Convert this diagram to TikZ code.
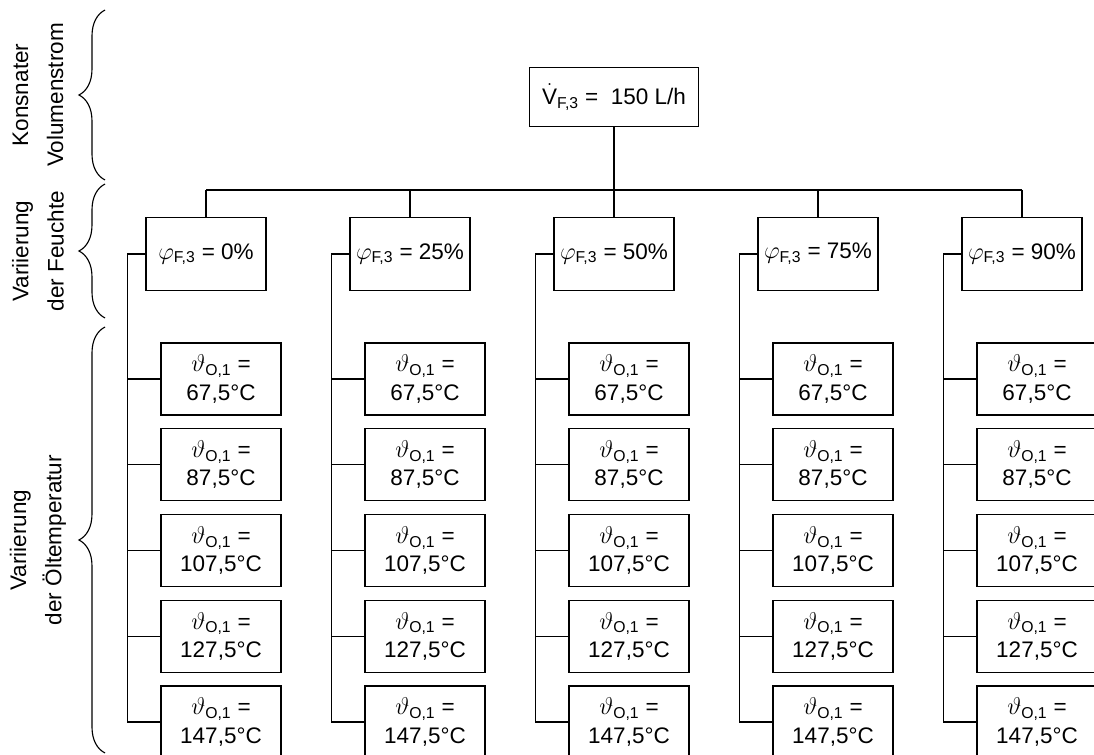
\documentclass[tikz,border=0pt]{standalone}
\usepackage{fontspec}
\setmainfont{Liberation Sans}
\usetikzlibrary{calc,decorations.pathreplacing}

\begin{document}
\begin{tikzpicture}[x=0.025cm,y=0.025cm,
    link/.style={line width=0.8pt},
    box/.style={draw, line width=0.8pt, inner sep=0pt, align=center,
      font=\fontsize{16}{20}\selectfont},
    volbox/.style={box, minimum width=4.225cm, minimum height=1.475cm},
    phibox/.style={box, minimum width=3cm, minimum height=1.825cm},
    tempbox/.style={box, minimum width=3cm, minimum height=1.8cm},
    side/.style={rotate=90, align=center, font=\fontsize{16}{25}\selectfont},
    bracket/.style={decorate, line width=0.8pt,
      decoration={brace, amplitude=0.65cm}}]
  \useasboundingbox (0,0) rectangle (1094,-755);

  % Top box
  \node[volbox] (vol) at (614,-97) {$\dot{\mathrm{V}}$\textsubscript{F,3} = \ 150 L/h};
  \coordinate (bar) at (0,-190);

  % Humidity boxes and oil temperature boxes
  \foreach \p [count=\i] in {0,25,50,75,90} {
    \node[phibox] (phi\i) at ({206+204*(\i-1)},-254)
      {$\varphi$\textsubscript{F,3} = \p\%};
    \foreach \t [count=\k] in {67,87,107,127,147}
      \node[tempbox] (t\i\k) at ({221+204*(\i-1)},{-379-85.75*(\k-1)})
        {$\vartheta$\textsubscript{O,1} =\\ \t,5°C};
  }

  % Tree connectors
  \draw[link] (vol.south) -- (vol.south |- bar);
  \draw[link] (phi1.north |- bar) -- (phi5.north |- bar);
  \foreach \i in {1,...,5} {
    \draw[link] (phi\i.north |- bar) -- (phi\i.north);
    \coordinate (col\i) at ($(phi\i.west)+(-18,0)$);
    \draw[link] (phi\i.west) -- (col\i) |- (t\i5.west);
    \foreach \k in {1,...,4}
      \draw[link] (col\i |- t\i\k.west) -- (t\i\k.west);
  }

  % Braces and side labels
  \draw[bracket] (105,-180) -- (105,-10);
  \draw[bracket] (105,-318) -- (105,-184);
  \draw[bracket] (105,-753) -- (105,-327);
  \node[side] (lab1) at (38,-95) {Konsnater\\Volumenstrom};
  \node[side] (lab2) at (38,-251) {Variierung\\der Feuchte};
  \node[side] (lab3) at (38,-540) {Variierung\\der Öltemperatur};
\end{tikzpicture}
\end{document}
